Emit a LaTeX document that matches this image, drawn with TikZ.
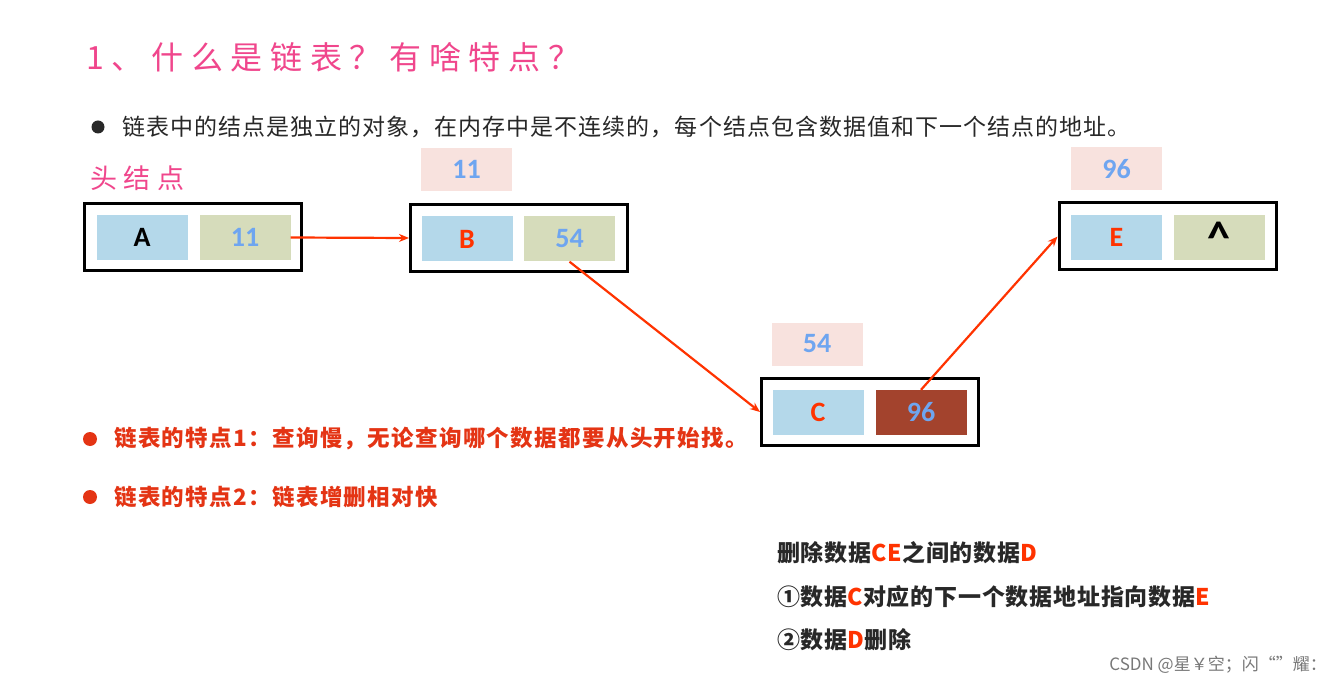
\documentclass[tikz,border=0pt]{standalone}
\usepackage{fontspec}
\usetikzlibrary{arrows.meta}
\newfontfamily\cjk{Noto Sans CJK SC}
\newfontfamily\calib{Carlito}
\definecolor{titlepink}{RGB}{240,70,140}
\definecolor{cellblue}{RGB}{180,216,234}
\definecolor{cellgreen}{RGB}{214,220,187}
\definecolor{cellbrown}{RGB}{163,67,45}
\definecolor{labelpink}{RGB}{248,226,222}
\definecolor{numblue}{RGB}{110,165,240}
\definecolor{linkred}{RGB}{255,51,0}
\definecolor{notered}{RGB}{228,52,20}
\definecolor{darktext}{RGB}{40,40,40}
\definecolor{wmgray}{RGB}{120,120,120}
\tikzset{
  outerbox/.style={draw=black,line width=3pt,minimum width=217pt,minimum height=67pt,inner sep=0pt},
  cellbox/.style={minimum width=91pt,minimum height=45pt,inner sep=0pt,font=\calib\bfseries\fontsize{28}{28}\selectfont},
  lblbox/.style={fill=labelpink,minimum width=91pt,minimum height=43pt,inner sep=0pt,text=numblue,font=\calib\bfseries\fontsize{28}{28}\selectfont},
  link/.style={draw=linkred,line width=2.2pt,-{Stealth[length=10pt,width=8pt]}},
  plain/.style={inner sep=0pt,anchor=west},
  notefont/.style={font=\cjk\bfseries\fontsize{22.5}{22.5}\selectfont\addfontfeature{LetterSpace=6}},
  stepfont/.style={font=\cjk\bfseries\fontsize{23}{23}\selectfont\addfontfeature{LetterSpace=3.5}},
}
\begin{document}
\begin{tikzpicture}[x=1pt,y=-1pt]
\useasboundingbox[fill=white] (0,0) rectangle (1337,684);
% title
\node[plain,text=titlepink,font=\cjk\fontsize{32}{32}\selectfont\addfontfeature{LetterSpace=24}] (title) at (86,57) {1、什么是链表？有啥特点？};
% first bullet
\fill[darktext] (98,127) circle (6.5);
\node[plain,text=darktext,font=\cjk\fontsize{23}{23}\selectfont\addfontfeature{LetterSpace=4.5}] (intro) at (122,127) {链表中的结点是独立的对象，在内存中是不连续的，每个结点包含数据值和下一个结点的地址。};
% head label
\node[plain,text=titlepink,font=\cjk\fontsize{27}{27}\selectfont\addfontfeature{LetterSpace=25}] (head) at (90,178) {头结点};
% node A
\node[outerbox] (A) at (192.5,237) {};
\node[cellbox,fill=cellblue,text=black] (cA) at (142,237.5) {A};
\node[cellbox,fill=cellgreen,text=numblue] (c11) at (245,237.5) {11};
% node B
\node[lblbox] (l11) at (466.5,169.5) {11};
\node[outerbox] (B) at (519,238) {};
\node[cellbox,fill=cellblue,text=linkred] (cB) at (467,239) {B};
\node[cellbox,fill=cellgreen,text=numblue] (c54) at (569.5,239) {54};
% node C
\node[lblbox] (l54) at (817,344) {54};
\node[outerbox] (C) at (870,412) {};
\node[cellbox,fill=cellblue,text=linkred] (cC) at (818,412.5) {C};
\node[cellbox,fill=cellbrown,text=numblue] (c96) at (921,412.5) {96};
% node E
\node[lblbox] (l96) at (1116.5,169) {96};
\node[outerbox] (E) at (1167.5,236.5) {};
\node[cellbox,fill=cellblue,text=linkred] (cE) at (1116.5,237.5) {E};
\node[cellbox,fill=cellgreen,text=black,font=\calib\bfseries\fontsize{46}{46}\selectfont] (cnull) at (1219,237.5) {\raisebox{-0.3em}{\textasciicircum}};
% links
\draw[link] (c11.east) -- (B.west);
\draw[link] (c54.south) -- (C.west);
\draw[link] (c96.north) -- (E.west);
% red notes
\fill[notered] (90,439) circle (7);
\node[plain,text=notered,notefont] (note1) at (114,439) {链表的特点1：查询慢，无论查询哪个数据都要从头开始找。};
\fill[notered] (90,497) circle (7);
\node[plain,text=notered,notefont] (note2) at (114,497) {链表的特点2：链表增删相对快};
% delete steps
\node[plain,text=darktext,stepfont] (del0) at (777,553) {删除数据\textcolor{linkred}{CE}之间的数据\textcolor{linkred}{D}};
\node[plain,text=darktext,stepfont] (del1) at (777,597) {①数据\textcolor{linkred}{C}对应的下一个数据地址指向数据\textcolor{linkred}{E}};
\node[plain,text=darktext,stepfont] (del2) at (777,640) {②数据\textcolor{linkred}{D}删除};
% watermark
\node[inner sep=0pt,anchor=east,text=wmgray,font=\cjk\fontsize{17}{17}\selectfont] (wm) at (1327,665) {CSDN @星￥空；闪“”耀：};
\end{tikzpicture}
\end{document}
